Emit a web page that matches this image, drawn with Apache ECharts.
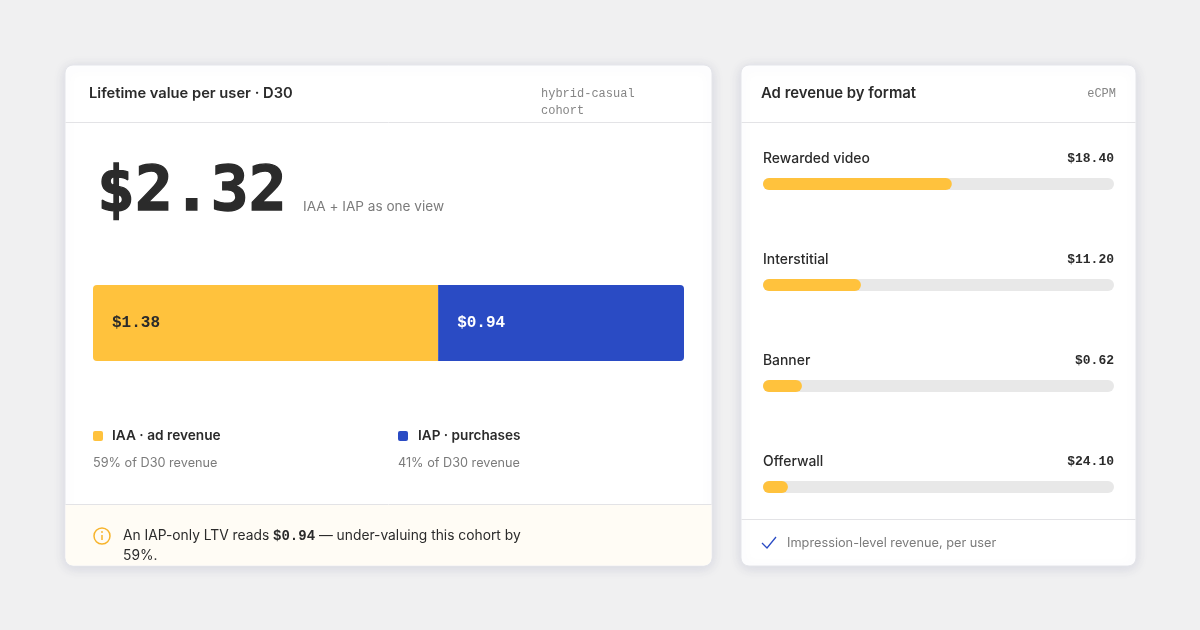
<!DOCTYPE html>
<html><head><meta charset="utf-8">
<style>html,body{margin:0;padding:0;background:#f0f0f1}#c{width:1200px;height:630px}</style>
<script src="https://cdn.jsdelivr.net/npm/echarts@6/dist/echarts.min.js"></script>
</head><body><div id="c"></div>
<script>
const splitNames = ['IAA · ad revenue', 'IAP · purchases'];
const splitLabels = ['$1.38', '$0.94'];
const splitShares = [58.4, 41.6];
const splitNotes = ['59% of D30 revenue', '41% of D30 revenue'];
const formats = ['Rewarded video', 'Interstitial', 'Banner', 'Offerwall'];
const formatEcpm = ['$18.40', '$11.20', '$0.62', '$24.10'];
const formatFill = [53.8, 27.9, 11.1, 7.1];

const AMBER = '#ffc23d', BLUE = '#2a4bc4', INK = '#2b2b2b', GRAY = '#7b7b7b', LINE = '#e3e3e6';
const SANS = 'Inter, "Noto Sans", sans-serif', MONO = '"Liberation Mono", monospace', BIG = '"DejaVu Sans Mono", monospace';

function card(x, y, w, h) {
  return { type: 'rect', z: -10, shape: { x, y, width: w, height: h, r: 8 },
    style: { fill: '#fff', stroke: '#e4e5ea', lineWidth: 1, shadowBlur: 12, shadowColor: 'rgba(60,70,120,0.15)', shadowOffsetY: 2 } };
}
function hline(x1, x2, y) {
  return { type: 'line', z: -5, shape: { x1, y1: y, x2, y2: y }, style: { stroke: LINE, lineWidth: 1 } };
}
function txt(x, y, text, size, weight, fill, font, align) {
  return { type: 'text', z: 5, x, y, style: { text, fontSize: size, fontWeight: weight, fill, fontFamily: font || SANS,
    align: align || 'left', verticalAlign: 'middle' } };
}
function swatch(x, y, fill) {
  return { type: 'rect', z: 5, shape: { x, y, width: 10, height: 10, r: 2 }, style: { fill } };
}
const bigValue = txt(97, 194, '$2.32', 63, 700, INK, BIG);
bigValue.style.stroke = INK;
bigValue.style.lineWidth = 1.4;

const graphic = [
  card(65, 65, 647, 501),
  card(741, 65, 395, 501),
  hline(65.5, 711.5, 122.5),
  hline(741.5, 1135.5, 122.5),
  { type: 'rect', z: -6, shape: { x: 65.5, y: 505, width: 646, height: 60.5, r: [0, 0, 8, 8] }, style: { fill: '#fffcf5' } },
  hline(65.5, 711.5, 504.5),
  hline(741.5, 1135.5, 519.5),
  txt(89, 94, 'Lifetime value per user · D30', 14.7, 600, INK),
  txt(541, 93.5, 'hybrid-casual', 12, 400, '#858585', MONO),
  txt(541, 110.5, 'cohort', 12, 400, '#858585', MONO),
  txt(761, 94, 'Ad revenue by format', 14.9, 600, INK),
  txt(1116, 93.5, 'eCPM', 12, 400, '#858585', MONO, 'right'),
  bigValue,
  txt(303, 206.5, 'IAA + IAP as one view', 13.6, 400, GRAY),
  swatch(93, 431, AMBER),
  swatch(398, 431, BLUE),
  txt(112, 435.5, splitNames[0], 13.7, 600, INK),
  txt(418, 435.5, splitNames[1], 13.6, 600, INK),
  txt(93, 463, splitNotes[0], 12.7, 400, GRAY),
  txt(398, 463, splitNotes[1], 12.7, 400, GRAY),
  { type: 'circle', z: 5, shape: { cx: 102, cy: 536, r: 8 }, style: { fill: 'none', stroke: '#f7b42c', lineWidth: 1.5 } },
  { type: 'line', z: 5, shape: { x1: 102, y1: 535, x2: 102, y2: 540 }, style: { stroke: '#f7b42c', lineWidth: 1.5 } },
  { type: 'circle', z: 5, shape: { cx: 102, cy: 532, r: 0.9 }, style: { fill: '#f7b42c' } },
  { type: 'text', z: 5, x: 123, y: 536, style: {
      text: 'An IAP-only LTV reads {m|$0.94} — under-valuing this cohort by',
      fontSize: 13.8, fontFamily: SANS, fill: INK, verticalAlign: 'middle',
      rich: { m: { fontFamily: MONO, fontWeight: 700, fontSize: 14, fill: INK } } } },
  txt(123, 555.5, '59%.', 13.8, 400, INK),
  { type: 'polyline', z: 5, shape: { points: [[762, 543], [767, 548], [776, 537]] }, style: { fill: 'none', stroke: BLUE, lineWidth: 1.3 } },
  txt(787, 543, 'Impression-level revenue, per user', 12.75, 400, GRAY)
];

const option = {
  animation: false,
  backgroundColor: '#f0f0f1',
  graphic: { elements: graphic },
  grid: [
    { left: 93, top: 285, width: 591, height: 76 },
    { left: 763, top: 133.5, width: 351, height: 404 }
  ],
  xAxis: [
    { gridIndex: 0, type: 'value', min: 0, max: 100, show: false },
    { gridIndex: 1, type: 'value', min: 0, max: 100, show: false }
  ],
  yAxis: [
    { gridIndex: 0, type: 'category', data: ['D30'], show: false },
    { gridIndex: 1, type: 'category', data: formats, inverse: true, show: false }
  ],
  series: [
    { type: 'bar', name: splitNames[0], xAxisIndex: 0, yAxisIndex: 0, stack: 'ltv', barWidth: 76, z: 3,
      data: [splitShares[0]], itemStyle: { color: AMBER, borderRadius: [4, 0, 0, 4] },
      label: { show: true, position: 'insideLeft', distance: 19, formatter: () => splitLabels[0],
        fontFamily: MONO, fontWeight: 700, fontSize: 16, color: INK } },
    { type: 'bar', name: splitNames[1], xAxisIndex: 0, yAxisIndex: 0, stack: 'ltv', barWidth: 76, z: 3,
      data: [splitShares[1]], itemStyle: { color: BLUE, borderRadius: [0, 4, 4, 0] },
      label: { show: true, position: 'insideLeft', distance: 19, formatter: () => splitLabels[1],
        fontFamily: MONO, fontWeight: 700, fontSize: 16, color: '#fff' } },
    { type: 'bar', name: 'track', xAxisIndex: 1, yAxisIndex: 1, barWidth: 12, barGap: '-100%', z: 3,
      data: formats.map(() => 100), itemStyle: { color: '#e8e8e8', borderRadius: 6 },
      label: { show: true, position: 'insideRight', distance: 0, offset: [0, -25],
        formatter: p => formatEcpm[p.dataIndex], fontFamily: MONO, fontWeight: 700, fontSize: 13, color: INK } },
    { type: 'bar', name: 'eCPM fill', xAxisIndex: 1, yAxisIndex: 1, barWidth: 12, barGap: '-100%', z: 4,
      data: formatFill, itemStyle: { color: AMBER, borderRadius: 6 },
      label: { show: true, position: 'insideLeft', distance: 0, offset: [0, -25],
        formatter: p => formats[p.dataIndex], fontFamily: SANS, fontWeight: 500, fontSize: 13.9, color: INK } }
  ]
};
echarts.init(document.getElementById('c'), null, { renderer: 'canvas' }).setOption(option);
</script></body></html>
